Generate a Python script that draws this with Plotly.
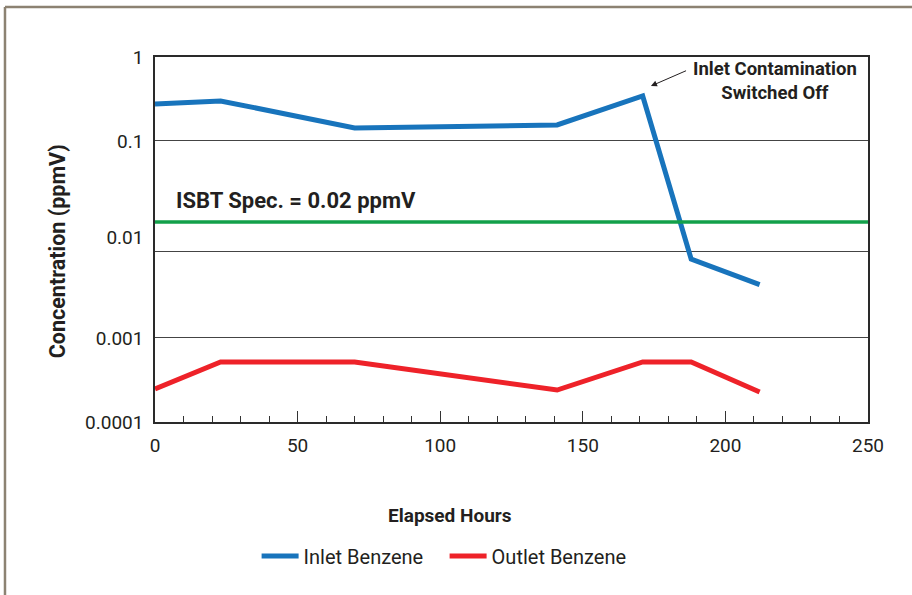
import numpy as np
import plotly.graph_objects as go

# ---- data ----
hours = [0, 23, 70, 141, 171, 188, 212]
inlet_benzene = [0.305, 0.33, 0.167, 0.18, 0.374, 0.0061, 0.0032]
outlet_benzene = [0.00023, 0.000455, 0.000455, 0.000224, 0.000455, 0.000455, 0.000213]
spec_value = 0.0156  # drawn position of the "0.02 ppmV" spec line
spec_label = "ISBT Spec. = 0.02 ppmV"

x_ticks = [0, 50, 100, 150, 200, 250]
y_tick_text = ["1", "0.1", "0.01", "0.001", "0.0001"]
y_tick_vals = [1, 0.1201, 0.01065, 0.000833, 0.0001]   # where the reference prints the labels
y_grid_vals = [0.1201, 0.0073, 0.000833]               # where the reference draws grid lines

BLUE = "#1874bc"
RED = "#ee2229"
GREEN = "#12a04a"
TEXT = "#231f20"
FONT = "Roboto"

fig = go.Figure()
fig.add_trace(go.Scatter(x=hours, y=inlet_benzene, mode="lines", name="Inlet Benzene",
                         line=dict(color=BLUE, width=5)))
fig.add_trace(go.Scatter(x=hours, y=outlet_benzene, mode="lines", name="Outlet Benzene",
                         line=dict(color=RED, width=5)))
fig.add_trace(go.Scatter(x=[0, 250], y=[spec_value, spec_value], mode="lines",
                         line=dict(color=GREEN, width=3.5), showlegend=False, hoverinfo="skip"))

fig.update_layout(
    width=912, height=595,
    margin=dict(l=155, r=44, t=57, b=173, autoexpand=False),
    paper_bgcolor="white", plot_bgcolor="white",
    font=dict(family=FONT, size=19, color=TEXT),
    showlegend=True,
    legend=dict(orientation="h", x=0.1425, xanchor="left", y=-0.367, yanchor="middle",
                itemwidth=37, entrywidth=136,
                font=dict(family=FONT, size=20, color=TEXT), bgcolor="rgba(0,0,0,0)"),
)

fig.update_xaxes(
    range=[0, 250], tickvals=x_ticks, ticks="inside", ticklen=11, tickwidth=1, tickcolor="#333",
    minor=dict(dtick=10, ticks="inside", ticklen=6, tickwidth=1, tickcolor="#333", showgrid=False),
    showgrid=False, zeroline=False, showline=True, linecolor="#2a2a2a", linewidth=1.5, mirror=True,
    tickfont=dict(family=FONT, size=19, color=TEXT), ticklabelstandoff=5,
)
fig.update_yaxes(
    type="log", range=[-4, 0], tickmode="array", tickvals=y_tick_vals, ticktext=y_tick_text,
    ticks="", showgrid=False, zeroline=False, showline=True, linecolor="#2a2a2a", linewidth=1.5,
    mirror=True, tickfont=dict(family=FONT, size=19, color=TEXT), ticklabelstandoff=6,
    minor=dict(tickmode="array", tickvals=y_grid_vals, showgrid=True, gridcolor="#444",
               gridwidth=1, ticks=""),
)

# axis titles
fig.add_annotation(text="<b>Elapsed Hours</b>", xref="paper", yref="paper", x=0.4137, y=-0.255,
                   xanchor="center", yanchor="middle", showarrow=False,
                   font=dict(family=FONT, size=19, color=TEXT))
fig.add_annotation(text="<b>Concentration (ppmV)</b>", xref="paper", yref="paper", x=-0.1374,
                   y=0.468, xanchor="center", yanchor="middle", textangle=-90, showarrow=False,
                   font=dict(family=FONT, size=21.5, color=TEXT))

# spec label
fig.add_annotation(text="<b>" + spec_label + "</b>", x=6.5, y=np.log10(spec_value),
                   xanchor="left", yanchor="bottom", yshift=7, showarrow=False,
                   font=dict(family=FONT, size=22, color=TEXT))

# "switched off" note and arrow
fig.add_annotation(text="<b>Inlet Contamination<br>Switched Off</b>", x=217.4, y=-0.268,
                   xanchor="center", yanchor="middle", showarrow=False, align="center",
                   font=dict(family=FONT, size=18.5, color=TEXT))
fig.add_annotation(text=" ", x=173.9, y=-0.318, axref="x", ayref="y", ax=187.6, ay=-0.1315,
                   showarrow=True, arrowhead=2, arrowsize=1.2, arrowwidth=1, arrowcolor=TEXT)

# outer frame (top and left edges of the page panel)
BORDER = "#8c8272"
fig.add_shape(type="line", xref="paper", yref="paper", x0=-0.2104, x1=1.07, y0=1.137, y1=1.137,
              line=dict(color=BORDER, width=2.5))
fig.add_shape(type="line", xref="paper", yref="paper", x0=-0.2104, x1=-0.2104, y0=1.137, y1=-0.48,
              line=dict(color=BORDER, width=2.5))

fig.write_html("out.html", config={"displayModeBar": False},
               post_script="document.body.style.margin='0';document.body.style.overflow='hidden';")
